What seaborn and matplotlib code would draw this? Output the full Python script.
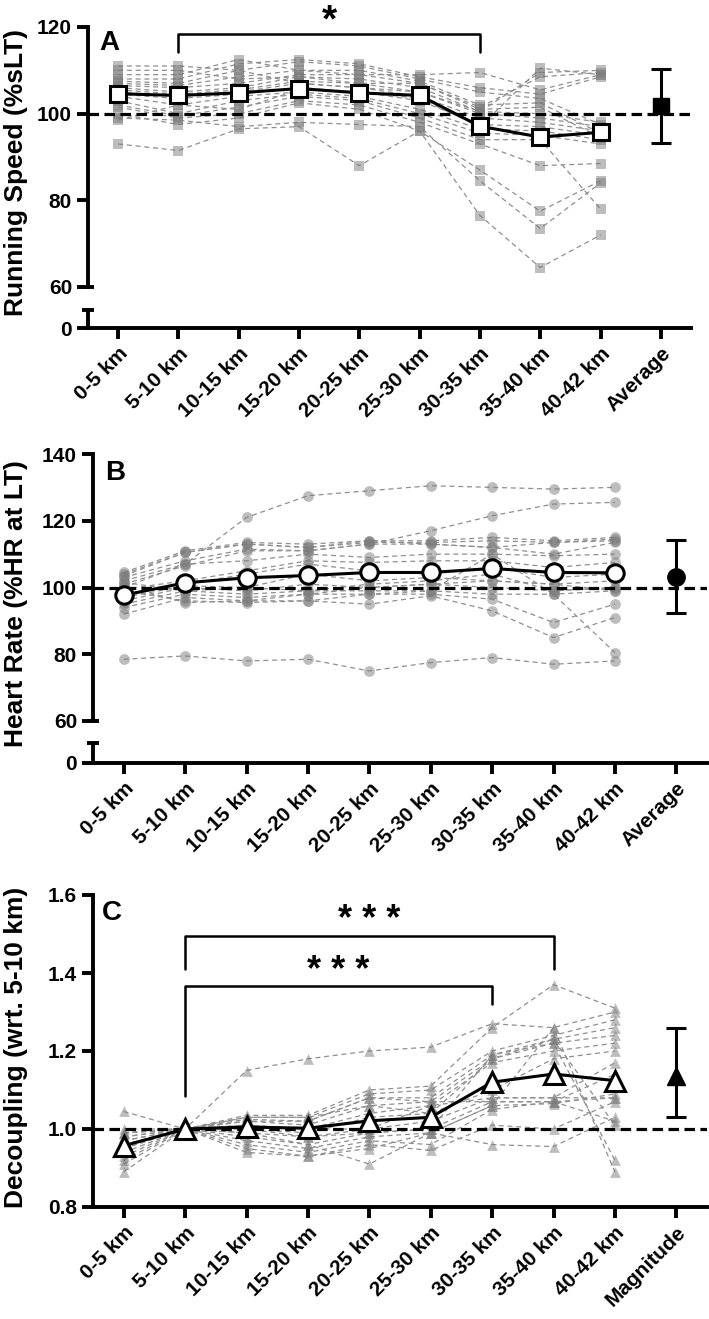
import numpy as np
import pandas as pd
import matplotlib
matplotlib.use("Agg")
import matplotlib.pyplot as plt
import seaborn as sns

# ---------------- data ----------------
segments = ["0-5 km", "5-10 km", "10-15 km", "15-20 km", "20-25 km",
            "25-30 km", "30-35 km", "35-40 km", "40-42 km"]
summary_label_ab = "Average"
summary_label_c = "Magnitude"

# Panel A: running speed (%sLT), one list per runner
speed_indiv = [
    [93.0, 91.5, 96.5, 97.0, 88.0, 96.0, 87.0, 77.5, 84.5],
    [99.0, 98.5, 97.0, 98.0, 97.5, 97.0, 84.5, 73.5, 84.0],
    [100.0, 97.5, 99.0, 102.5, 101.0, 96.0, 76.5, 64.5, 72.0],
    [101.5, 99.0, 100.0, 103.0, 102.0, 98.0, 93.0, 88.0, 88.5],
    [102.0, 99.5, 101.5, 104.0, 103.0, 99.0, 94.0, 94.0, 78.0],
    [103.0, 100.0, 103.0, 104.5, 103.5, 100.0, 95.5, 95.0, 93.0],
    [104.0, 102.0, 104.0, 105.0, 104.0, 101.0, 96.5, 96.0, 94.0],
    [104.5, 103.5, 104.5, 106.0, 105.0, 103.0, 97.5, 97.0, 95.0],
    [105.0, 104.0, 105.0, 107.0, 106.0, 104.0, 99.0, 98.0, 96.0],
    [105.5, 104.5, 105.5, 107.5, 107.0, 105.0, 100.0, 99.0, 97.0],
    [106.0, 105.0, 106.0, 108.5, 108.0, 106.0, 100.5, 100.0, 98.0],
    [106.5, 106.0, 107.0, 109.0, 109.0, 107.0, 101.0, 101.5, 94.5],
    [107.0, 106.5, 108.5, 110.0, 110.0, 107.5, 102.0, 102.5, 95.5],
    [107.5, 107.0, 110.0, 112.0, 111.0, 108.0, 105.0, 103.5, 97.5],
    [108.0, 108.0, 111.5, 112.5, 111.5, 108.5, 106.0, 104.5, 108.5],
    [109.0, 109.0, 112.5, 110.0, 109.0, 109.0, 109.5, 105.5, 109.0],
    [110.0, 110.0, 108.0, 108.5, 107.0, 107.0, 101.5, 108.5, 109.5],
    [111.0, 111.0, 110.0, 107.0, 106.0, 105.0, 100.5, 109.5, 110.0],
    [98.5, 102.0, 101.0, 105.5, 105.0, 103.5, 97.0, 110.5, 109.0],
]
speed_mean = [104.6, 104.2, 104.8, 105.8, 104.8, 104.2, 97.1, 94.6, 95.7]
speed_avg, speed_lo, speed_hi = 101.8, 93.3, 110.3

# Panel B: heart rate (%HR at LT)
hr_indiv = [
    [78.5, 79.5, 78.0, 78.5, 75.0, 77.5, 79.0, 77.0, 78.0],
    [100.0, 107.0, 121.0, 127.5, 129.0, 130.5, 130.0, 129.5, 130.0],
    [101.0, 106.5, 111.0, 111.0, 113.0, 117.0, 121.5, 125.0, 125.5],
    [104.5, 111.0, 113.5, 113.0, 114.0, 114.0, 115.0, 114.0, 115.0],
    [104.0, 110.5, 113.0, 112.0, 113.5, 113.5, 114.0, 113.5, 114.5],
    [103.0, 108.0, 111.5, 111.0, 113.0, 113.0, 112.0, 110.0, 113.5],
    [102.0, 107.0, 108.0, 110.0, 109.0, 110.0, 110.0, 109.5, 110.0],
    [99.5, 102.0, 105.0, 108.0, 107.5, 108.0, 108.0, 106.0, 107.5],
    [98.0, 101.0, 104.0, 107.0, 105.0, 104.0, 106.0, 103.0, 104.0],
    [97.0, 100.5, 100.0, 104.0, 102.0, 103.0, 102.0, 101.0, 102.0],
    [96.0, 100.0, 99.0, 101.0, 100.0, 101.0, 100.0, 99.0, 100.0],
    [95.0, 99.0, 98.0, 99.0, 99.0, 99.0, 98.0, 98.0, 99.0],
    [94.0, 98.0, 97.0, 98.0, 98.0, 98.0, 96.5, 89.5, 95.0],
    [92.0, 97.0, 96.0, 96.0, 95.0, 97.5, 93.0, 85.0, 91.0],
    [99.0, 96.0, 95.5, 96.0, 98.0, 99.0, 110.0, 98.0, 80.5],
    [100.5, 95.5, 96.0, 98.0, 100.0, 101.0, 102.0, 101.0, 99.0],
    [103.5, 110.5, 113.0, 112.0, 114.0, 113.0, 112.0, 113.5, 114.0],
    [101.5, 99.0, 100.0, 99.0, 101.0, 102.0, 104.0, 99.0, 100.0],
]
hr_mean = [97.7, 101.4, 102.9, 103.6, 104.5, 104.5, 105.7, 104.5, 104.4]
hr_avg, hr_lo, hr_hi = 103.2, 92.4, 114.3

# Panel C: decoupling (wrt. 5-10 km)
dec_indiv = [
    [1.045, 1.0, 1.15, 1.18, 1.20, 1.21, 1.27, 1.26, 1.30],
    [0.99, 1.0, 1.035, 1.035, 1.10, 1.11, 1.26, 1.37, 1.31],
    [0.98, 1.0, 1.03, 1.03, 1.09, 1.10, 1.20, 1.24, 1.28],
    [0.97, 1.0, 1.025, 1.02, 1.08, 1.08, 1.19, 1.23, 1.26],
    [0.96, 1.0, 1.02, 1.01, 1.06, 1.07, 1.18, 1.22, 1.24],
    [0.95, 1.0, 1.01, 1.00, 1.04, 1.06, 1.17, 1.20, 1.22],
    [0.94, 1.0, 1.00, 0.99, 1.03, 1.04, 1.10, 1.18, 1.20],
    [0.92, 1.0, 0.99, 0.98, 1.00, 1.02, 1.08, 1.08, 1.17],
    [0.91, 1.0, 0.98, 0.96, 0.99, 1.00, 1.07, 1.07, 1.14],
    [0.89, 1.0, 0.97, 0.95, 0.98, 0.99, 1.06, 1.065, 1.09],
    [0.99, 1.0, 0.96, 0.94, 0.97, 0.96, 1.05, 1.07, 1.08],
    [1.00, 1.0, 0.95, 0.93, 0.96, 0.945, 1.01, 1.00, 1.07],
    [0.98, 1.0, 0.94, 0.93, 0.95, 0.99, 0.96, 0.955, 1.03],
    [0.97, 1.0, 0.99, 0.96, 0.91, 0.99, 1.06, 1.26, 0.89],
    [0.96, 1.0, 1.00, 0.98, 0.99, 1.00, 1.19, 1.22, 0.92],
    [0.95, 1.0, 1.02, 1.02, 1.08, 1.07, 1.07, 1.07, 1.02],
    [0.93, 1.0, 1.03, 1.03, 1.06, 1.04, 1.18, 1.23, 1.01],
    [0.99, 1.0, 1.01, 1.00, 1.00, 1.06, 1.08, 1.08, 1.08],
]
dec_mean = [0.957, 1.0, 1.005, 1.002, 1.021, 1.03, 1.12, 1.141, 1.124]
dec_avg, dec_lo, dec_hi = 1.137, 1.03, 1.258

# ---------------- style ----------------
sns.set_theme(style="ticks")
plt.rcParams.update({
    "font.family": ["Liberation Sans", "DejaVu Sans"],
    "font.weight": "bold",
    "axes.linewidth": 2.8,
    "axes.edgecolor": "black",
    "xtick.major.width": 2.8, "ytick.major.width": 2.8,
    "xtick.major.size": 8, "ytick.major.size": 8,
    "xtick.labelsize": 15, "ytick.labelsize": 15,
    "xtick.color": "black", "ytick.color": "black",
    "text.color": "black",
})

W, H = 709, 1319
fig = plt.figure(figsize=(W / 100, H / 100), dpi=100)


def add_ax(l, t, r, b):
    return fig.add_axes([l / W, 1 - b / H, (r - l) / W, (b - t) / H])


def draw_indiv(ax, indiv, marker, s):
    rows = []
    for sid, vals in enumerate(indiv):
        for i, v in enumerate(vals):
            rows.append({"subject": sid, "x": i, "value": v})
    df = pd.DataFrame(rows)
    sns.lineplot(data=df, x="x", y="value", units="subject", estimator=None,
                 color="#8f8f8f", linewidth=0.9, linestyle=(0, (4, 3)),
                 legend=False, ax=ax, zorder=2)
    sns.scatterplot(data=df, x="x", y="value", marker=marker, s=s,
                    color="#7d7d7d", alpha=0.5, linewidth=0, legend=False,
                    ax=ax, zorder=2.5)
    ax.set_xlabel("")
    ax.set_ylabel("")


def draw_means(ax, mean, avg, lo, hi, marker, ms, ms_avg):
    xs = np.arange(len(mean))
    ax.axhline(1.0 if max(mean) < 2 else 100, color="black", lw=2.3,
               ls=(0, (3.3, 1.7)), zorder=3)
    ax.plot(xs, mean, color="black", lw=2.2, marker=marker, ms=ms,
            mfc="white", mec="black", mew=2.2, zorder=5)
    ax.errorbar([len(mean)], [avg], yerr=[[avg - lo], [hi - avg]], fmt=marker,
                color="black", ms=ms_avg, capsize=7, elinewidth=2.2,
                capthick=2.2, zorder=5)


def style_xaxis(ax, labels):
    ax.set_xlim(-0.5, 9.5)
    ax.set_xticks(range(10))
    ax.set_xticklabels(labels, rotation=45, ha="right", va="top",
                       rotation_mode="anchor", fontweight="bold")
    for sp in ("top", "right"):
        ax.spines[sp].set_visible(False)


def broken_panel(top_box, bot_box, ylim, yticks, labels):
    ax_t = add_ax(*top_box)
    ax_b = add_ax(*bot_box)
    ax_t.set_xlim(-0.5, 9.5)
    ax_t.set_ylim(*ylim)
    ax_t.set_yticks(yticks)
    ax_t.set_yticklabels([str(v) for v in yticks], fontweight="bold")
    for sp in ("top", "right", "bottom"):
        ax_t.spines[sp].set_visible(False)
    ax_t.tick_params(axis="x", bottom=False, labelbottom=False)
    ax_b.set_ylim(0, 1)
    ax_b.set_yticks([0])
    ax_b.set_yticklabels(["0"], fontweight="bold")
    style_xaxis(ax_b, labels)
    # break caps
    w = 6 / (top_box[2] - top_box[0])
    ax_t.plot([-w, w], [ylim[0], ylim[0]], color="black", lw=2.8,
              transform=ax_t.get_yaxis_transform(), clip_on=False,
              solid_capstyle="butt")
    ax_b.plot([-w, w], [1, 1], color="black", lw=2.8,
              transform=ax_b.get_yaxis_transform(), clip_on=False,
              solid_capstyle="butt")
    return ax_t, ax_b


labels_ab = segments + [summary_label_ab]
labels_c = segments + [summary_label_c]

# ---- Panel A ----
axA, axA_b = broken_panel((88, 27, 691, 287), (88, 310, 691, 328),
                          (60, 120), [60, 80, 100, 120], labels_ab)
draw_indiv(axA, speed_indiv, "s", 60)
draw_means(axA, speed_mean, speed_avg, speed_lo, speed_hi, "s", 11.5, 11.5)
axA.set_xlim(-0.5, 9.5)
axA.set_ylim(60, 120)
axA.plot([1, 1, 6, 6], [114.3, 118.5, 118.5, 114.3], color="black", lw=1.8,
         clip_on=False, zorder=6)
axA.text(3.5, 121.2, "*", ha="center", va="center", fontsize=28,
         fontweight="bold")
axA.text(0.018, 0.94, "A", transform=axA.transAxes, ha="left", va="center",
         fontsize=20, fontweight="bold")

# ---- Panel B ----
axB, axB_b = broken_panel((93, 454, 707, 721), (93, 743, 707, 763),
                          (60, 140), [60, 80, 100, 120, 140], labels_ab)
draw_indiv(axB, hr_indiv, "o", 60)
draw_means(axB, hr_mean, hr_avg, hr_lo, hr_hi, "o", 12.5, 12.5)
axB.set_xlim(-0.5, 9.5)
axB.set_ylim(60, 140)
axB.text(0.02, 0.93, "B", transform=axB.transAxes, ha="left", va="center",
         fontsize=20, fontweight="bold")

# ---- Panel C ----
axC = add_ax(93, 895, 707, 1207)
draw_indiv(axC, dec_indiv, "^", 60)
draw_means(axC, dec_mean, dec_avg, dec_lo, dec_hi, "^", 14, 12.5)
style_xaxis(axC, labels_c)
axC.set_ylim(0.8, 1.6)
axC.set_yticks([0.8, 1.0, 1.2, 1.4, 1.6])
axC.set_yticklabels(["0.8", "1.0", "1.2", "1.4", "1.6"], fontweight="bold")
axC.plot([1, 1, 7, 7], [1.41, 1.495, 1.495, 1.41], color="black", lw=1.8,
         zorder=6)
axC.plot([1, 1, 6, 6], [1.085, 1.367, 1.367, 1.32], color="black", lw=1.8,
         zorder=6)
axC.text(4.0, 1.535, "* * *", ha="center", va="center", fontsize=26,
         fontweight="bold")
axC.text(3.5, 1.405, "* * *", ha="center", va="center", fontsize=26,
         fontweight="bold")
axC.text(0.015, 0.942, "C", transform=axC.transAxes, ha="left", va="center",
         fontsize=20, fontweight="bold")

# ---- y labels ----
for ytxt, ypix in [("Running Speed (%sLT)", 173),
                   ("Heart Rate (%HR at LT)", 604),
                   ("Decoupling (wrt. 5-10 km)", 1047)]:
    fig.text(16 / W, 1 - ypix / H, ytxt, rotation=90, ha="center",
             va="center", fontsize=19, fontweight="bold")

fig.savefig("out.png", dpi=100)
